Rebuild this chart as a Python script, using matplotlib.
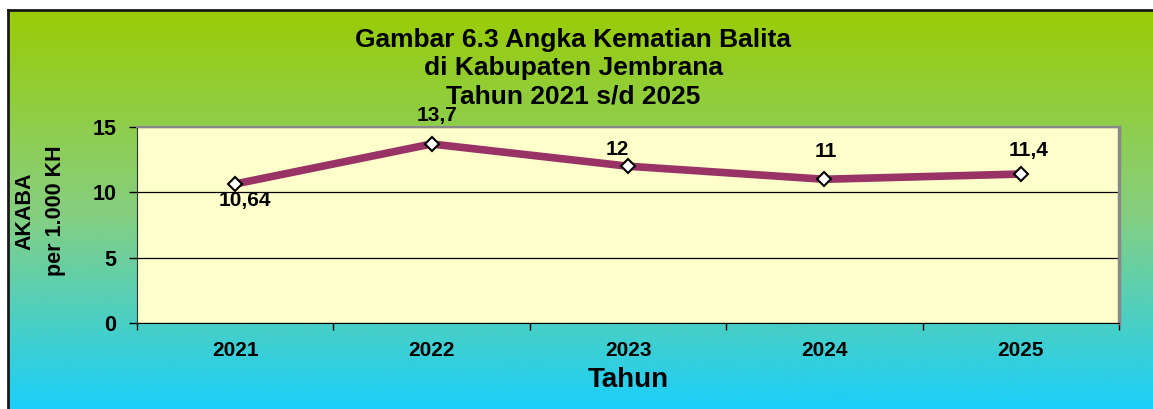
import matplotlib
matplotlib.use("Agg")
import matplotlib.pyplot as plt
import numpy as np
from matplotlib.colors import LinearSegmentedColormap

plt.rcParams['font.family'] = ['Liberation Sans', 'DejaVu Sans']
plt.rcParams['font.weight'] = 'bold'

years = ['2021', '2022', '2023', '2024', '2025']
akaba = [10.64, 13.7, 12, 11, 11.4]
labels = ['10,64', '13,7', '12', '11', '11,4']
# label offsets in pixels (dx, dy) relative to each point
offsets = [(10, -17), (5, 28), (-11, 17), (1, 28), (8, 24)]

W, H = 1153, 409
fig = plt.figure(figsize=(W / 100, H / 100), dpi=100)
fig.patch.set_facecolor('white')

# gradient background with a dark frame (top/left visible)
bg = fig.add_axes([8 / W, -0.02, 1.02 - 8 / W, (H - 10) / H + 0.02])
cmap = LinearSegmentedColormap.from_list('bg', ['#9acc05', '#86cf80', '#16cfff'])
grad = np.linspace(0, 1, 256).reshape(-1, 1)
bg.imshow(grad, aspect='auto', cmap=cmap, extent=[0, 1, 0, 1], origin='upper')
bg.set_xlim(0, 1)
bg.set_ylim(0, 1)
bg.set_xticks([])
bg.set_yticks([])
for s in ['right', 'bottom']:
    bg.spines[s].set_visible(False)
for s in ['top', 'left']:
    bg.spines[s].set_linewidth(2)
    bg.spines[s].set_color('#1a1a1a')

ax = fig.add_axes([137 / W, (H - 323) / H, 982 / W, 196 / H])
ax.set_facecolor('#ffffcc')
x = np.arange(len(years))
ax.plot(x, akaba, color='#993366', lw=5.5, solid_capstyle='round', zorder=3)
ax.plot(x, akaba, ls='none', marker='D', ms=7, mfc='white', mec='black', mew=1.5, zorder=4)

for xi, yi, lab, (dx, dy) in zip(x, akaba, labels, offsets):
    ax.annotate(lab, (xi, yi), xytext=(dx * 0.72, dy * 0.72), textcoords='offset points',
                ha='center', va='center', fontsize=15, fontweight='bold', zorder=5)

ax.set_xlim(-0.5, len(years) - 0.5)
ax.set_ylim(0, 15)
ax.set_yticks([0, 5, 10, 15])
ax.set_xticks(x)
ax.set_xticklabels(years)
ax.set_xticks(np.arange(-0.5, len(years), 1), minor=True)
ax.tick_params(axis='x', which='major', length=0, pad=13, labelsize=15)
ax.tick_params(axis='x', which='minor', length=5, width=1, direction='out')
ax.tick_params(axis='y', length=6, width=1, direction='out', pad=9, labelsize=15.5)
for t in ax.get_xticklabels() + ax.get_yticklabels():
    t.set_fontweight('bold')
ax.grid(axis='y', color='black', lw=0.9)
ax.set_axisbelow(True)
ax.spines['top'].set_color('#888888')
ax.spines['right'].set_color('#888888')
ax.spines['right'].set_linewidth(2.5)
ax.spines['top'].set_linewidth(1.5)
ax.spines['left'].set_color('#333333')
ax.spines['bottom'].set_color('black')

ax.set_xlabel('Tahun', fontsize=20, fontweight='bold', labelpad=5)
fig.text(25 / W, 1 - 211 / H, 'AKABA', rotation=90, ha='center', va='center',
         fontsize=15.5, fontweight='bold')
fig.text(55 / W, 1 - 211 / H, 'per 1.000 KH', rotation=90, ha='center', va='center',
         fontsize=15.5, fontweight='bold')

fig.text(573 / W, 1 - 68 / H, 'Gambar 6.3 Angka Kematian Balita\ndi Kabupaten Jembrana\nTahun 2021 s/d 2025',
         ha='center', va='center', fontsize=19, fontweight='bold', linespacing=1.22)

fig.savefig('out.png', dpi=100)
